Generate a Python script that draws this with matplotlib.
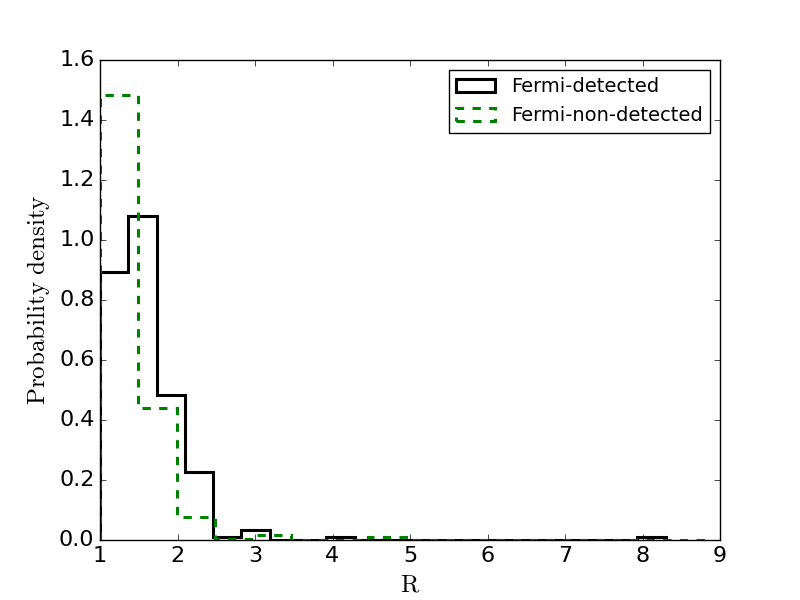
import numpy as np
import matplotlib
matplotlib.use('Agg')
import matplotlib.pyplot as plt

# histogram bin edges and densities
det_edges = np.linspace(1.0, 8.3, 21)
det_density = [0.895, 1.08, 0.482, 0.226, 0.011, 0.033, 0.0, 0.0, 0.011, 0.0,
               0.0, 0.0, 0.0, 0.0, 0.0, 0.0, 0.0, 0.0, 0.0, 0.011]

non_edges = np.linspace(1.0, 8.9, 17)
non_density = [1.483, 0.44, 0.077, 0.004, 0.017, 0.0, 0.0, 0.009, 0.0,
               0.0, 0.0, 0.0, 0.0, 0.0, 0.0, 0.001]

plt.style.use('classic')
plt.rcParams['mathtext.fontset'] = 'cm'

fig, ax = plt.subplots(figsize=(8, 6), dpi=100)
fig.patch.set_facecolor('white')

ax.hist(det_edges[:-1], bins=det_edges, weights=det_density, histtype='step',
        color='black', linewidth=2.2, label='Fermi-detected')
ax.hist(non_edges[:-1], bins=non_edges, weights=non_density, histtype='step',
        color='green', linewidth=2.2, linestyle='--', label='Fermi-non-detected')

ax.set_xlim(1, 9)
ax.set_ylim(0, 1.6)
ax.set_xlabel(r'$\mathrm{R}$', fontsize=18)
ax.set_ylabel(r'$\mathrm{Probability\ density}$', fontsize=18)
ax.tick_params(labelsize=16)
ax.legend(loc='upper right', fontsize=14)

fig.savefig('out.png', dpi=100, facecolor='white')
